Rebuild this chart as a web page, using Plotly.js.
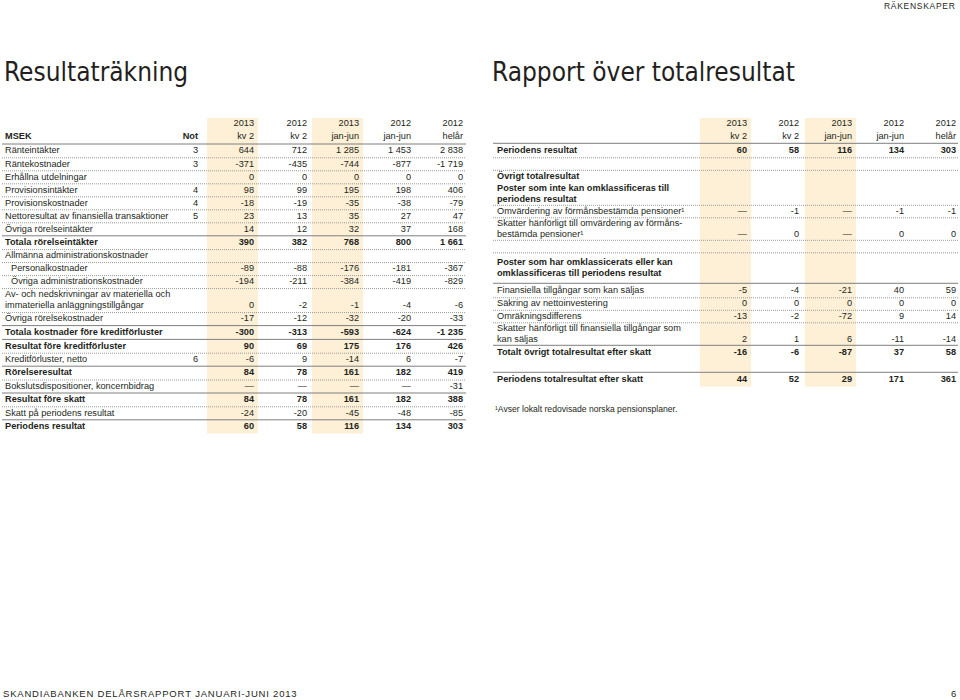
<!DOCTYPE html>
<html>
<head>
<meta charset="utf-8">
<script src="https://cdn.plot.ly/plotly-3.0.1.min.js"></script>
<style>
html,body{margin:0;padding:0;background:#ffffff;}
#chart{width:960px;height:700px;}
</style>
</head>
<body>
<div id="chart"></div>
<script>
// ================= DATA =================
// Column headers (shared by both statements)
const periodYears  = ['2013', '2012', '2013', '2012', '2012'];
const periodLabels = ['kv 2', 'kv 2', 'jan-jun', 'jan-jun', 'helår'];

// Resultaträkning (MSEK).  null = "—", '' = empty cell
const incomeLabels = [
  'Ränteintäkter',
  'Räntekostnader',
  'Erhållna utdelningar',
  'Provisionsintäkter',
  'Provisionskostnader',
  'Nettoresultat av finansiella transaktioner',
  'Övriga rörelseintäkter',
  'Totala rörelseintäkter',
  'Allmänna administrationskostnader',
  'Personalkostnader',
  'Övriga administrationskostnader',
  'Av- och nedskrivningar av materiella och\nimmateriella anläggningstillgångar',
  'Övriga rörelsekostnader',
  'Totala kostnader före kreditförluster',
  'Resultat före kreditförluster',
  'Kreditförluster, netto',
  'Rörelseresultat',
  'Bokslutsdispositioner, koncernbidrag',
  'Resultat före skatt',
  'Skatt på periodens resultat',
  'Periodens resultat'
];
const incomeNotes  = ['3', '3', '', '4', '4', '5', '', '', '', '', '', '', '', '', '', '6', '', '', '', '', ''];
const incomeQ2_2013 = [644, -371, 0, 98, -18, 23, 14, 390, '', -89, -194, 0, -17, -300, 90, -6, 84, null, 84, -24, 60];
const incomeQ2_2012 = [712, -435, 0, 99, -19, 13, 12, 382, '', -88, -211, -2, -12, -313, 69, 9, 78, null, 78, -20, 58];
const incomeH1_2013 = [1285, -744, 0, 195, -35, 35, 32, 768, '', -176, -384, -1, -32, -593, 175, -14, 161, null, 161, -45, 116];
const incomeH1_2012 = [1453, -877, 0, 198, -38, 27, 37, 800, '', -181, -419, -4, -20, -624, 176, 6, 182, null, 182, -48, 134];
const incomeFY_2012 = [2838, -1719, 0, 406, -79, 47, 168, 1661, '', -367, -829, -6, -33, -1235, 426, -7, 419, -31, 388, -85, 303];

// Rapport över totalresultat
const compLabels = [
  'Periodens resultat',
  '',
  'Övrigt totalresultat',
  'Poster som inte kan omklassificeras till\nperiodens resultat',
  'Omvärdering av förmånsbestämda pensioner¹',
  'Skatter hänförligt till omvärdering av förmåns-\nbestämda pensioner¹',
  '',
  'Poster som har omklassicerats eller kan\nomklassificeras till periodens resultat',
  'Finansiella tillgångar som kan säljas',
  'Säkring av nettoinvestering',
  'Omräkningsdifferens',
  'Skatter hänförligt till finansiella tillgångar som\nkan säljas',
  'Totalt övrigt totalresultat efter skatt',
  '',
  'Periodens totalresultat efter skatt'
];
const compQ2_2013 = [60, '', '', '', null, null, '', '', -5, 0, -13, 2, -16, '', 44];
const compQ2_2012 = [58, '', '', '', -1, 0, '', '', -4, 0, -2, 1, -6, '', 52];
const compH1_2013 = [116, '', '', '', null, null, '', '', -21, 0, -72, 6, -87, '', 29];
const compH1_2012 = [134, '', '', '', -1, 0, '', '', 40, 0, 9, -11, 37, '', 171];
const compFY_2012 = [303, '', '', '', -1, 0, '', '', 59, 0, 14, -14, 58, '', 361];

const footnote = '¹Avser lokalt redovisade norska pensionsplaner.';

// ================= STYLE / LAYOUT =================
const FONT = 'Liberation Sans, Arial, Helvetica, sans-serif';
const NARROW = 'DejaVu Sans Condensed, Liberation Sans Narrow, Arial Narrow, sans-serif';
const INK = '#231f20';
const SHADE = '#fdf0d6';
const SOLID = '#7f7f7f';
const DOT = '#9a9a9a';
const FS = 9.2;

const incomeStyle = {
  bold: [7, 13, 14, 16, 18, 20],
  indent: [9, 10],
  rules: ['solid','dotted','dotted','dotted','dotted','dotted','dotted','solid','dotted','dotted','dotted','dotted','dotted','solid','solid','dotted','solid','dotted','solid','dotted','solid'],
  pad: {},
  top: 144, S: 13.0, D: 24, solidExtra: 0.8, lineGap: 11,
  x0: 2, x1: 466, labelX: 5, indentX: 11, noteX: 198,
  colX: [254, 307, 359, 411, 463], shadeCols: [0, 2], shadeTop: 118,
  hdrY1: 124, hdrY2: 137, showHeadLabels: true
};
const compStyle = {
  bold: [0, 2, 3, 7, 12, 14],
  indent: [],
  rules: ['solid','dotted','dotted','none','dotted','dotted','dotted','dotted','solid','dotted','dotted','dotted','solid','none','solid'],
  pad: {7: 8},
  top: 143.3, S: 12.5, D: 22.5, solidExtra: 2, lineGap: 10.5,
  x0: 493, x1: 958, labelX: 497, indentX: 497, noteX: null,
  colX: [747, 799, 852, 904, 956], shadeCols: [0, 2], shadeTop: 118,
  hdrY1: 124, hdrY2: 137, showHeadLabels: false
};

function fmt(v) {
  if (v === null) return '—';
  if (v === '') return '';
  const s = Math.abs(v).toString().replace(/\B(?=(\d{3})+(?!\d))/g, ' ');
  return (v < 0 ? '-' : '') + s;
}

const traces = [];
const shapes = [];

function buildTable(labels, notes, cols, st) {
  // row geometry
  let y = st.top;
  const rows = labels.map((lab, i) => {
    const lines = lab === '' ? [] : lab.split('\n');
    let h = lines.length > 1 ? st.D : st.S;
    if (st.rules[i] === 'solid') h += st.solidExtra;
    h += (st.pad[i] || 0);
    const r = {top: y, h: h, center: y + h / 2, lines: lines, n: Math.max(lines.length, 1)};
    y += h;
    return r;
  });
  const bottom = y;

  // shading columns
  st.shadeCols.forEach(c => {
    shapes.push({type: 'rect', xref: 'x', yref: 'y', layer: 'below',
      x0: st.colX[c] - 47, x1: st.colX[c] + 4, y0: st.shadeTop, y1: bottom,
      fillcolor: SHADE, line: {width: 0}});
  });

  // rules
  rows.forEach((r, i) => {
    const t = st.rules[i];
    if (t === 'none') return;
    shapes.push({type: 'line', xref: 'x', yref: 'y', x0: st.x0, x1: st.x1, y0: r.top, y1: r.top,
      line: t === 'solid' ? {color: SOLID, width: 1} : {color: DOT, width: 1, dash: '1px,1px'}});
  });

  // labels
  const lx = [], ly = [], lt = [];
  rows.forEach((r, i) => {
    const isBold = st.bold.includes(i);
    const x = st.indent.includes(i) ? st.indentX : st.labelX;
    r.lines.forEach((line, k) => {
      lx.push(x);
      ly.push(r.center + (k - (r.lines.length - 1) / 2) * st.lineGap);
      lt.push(isBold ? '<b>' + line + '</b>' : line);
    });
  });
  traces.push({type: 'scatter', mode: 'text', x: lx, y: ly, text: lt,
    textposition: 'middle right', textfont: {family: FONT, size: FS, color: INK},
    hoverinfo: 'skip', showlegend: false, cliponaxis: false});

  // values (right aligned), placed on the last text line of each row
  const vx = [], vy = [], vt = [];
  cols.forEach((col, c) => {
    col.forEach((v, i) => {
      if (v === '') return;
      const r = rows[i];
      const s = fmt(v);
      vx.push(st.colX[c]);
      vy.push(r.center + (r.n - 1) / 2 * st.lineGap);
      vt.push(st.bold.includes(i) ? '<b>' + s + '</b>' : s);
    });
  });
  if (notes) {
    notes.forEach((nv, i) => {
      if (nv === '') return;
      const r = rows[i];
      vx.push(st.noteX);
      vy.push(r.center + (r.n - 1) / 2 * st.lineGap);
      vt.push(nv);
    });
  }
  // column headers
  periodYears.forEach((yr, c) => {
    vx.push(st.colX[c]); vy.push(st.hdrY1); vt.push(yr);
    vx.push(st.colX[c]); vy.push(st.hdrY2); vt.push(periodLabels[c]);
  });
  if (st.showHeadLabels) {
    vx.push(st.noteX); vy.push(st.hdrY2); vt.push('<b>Not</b>');
  }
  traces.push({type: 'scatter', mode: 'text', x: vx, y: vy, text: vt,
    textposition: 'middle left', textfont: {family: FONT, size: FS, color: INK},
    hoverinfo: 'skip', showlegend: false, cliponaxis: false});

  if (st.showHeadLabels) {
    traces.push({type: 'scatter', mode: 'text', x: [st.labelX], y: [st.hdrY2], text: ['<b>MSEK</b>'],
      textposition: 'middle right', textfont: {family: FONT, size: FS, color: INK},
      hoverinfo: 'skip', showlegend: false, cliponaxis: false});
  }
  return bottom;
}

buildTable(incomeLabels, incomeNotes,
  [incomeQ2_2013, incomeQ2_2012, incomeH1_2013, incomeH1_2012, incomeFY_2012], incomeStyle);
const compBottom = buildTable(compLabels, null,
  [compQ2_2013, compQ2_2012, compH1_2013, compH1_2012, compFY_2012], compStyle);

function spaced(s) { return s.split('').join('\u200A'); }

const annotations = [
  {text: 'Resultaträkning', x: 3, y: 72, xanchor: 'left', yanchor: 'middle',
   font: {family: NARROW, size: 26, color: INK}},
  {text: 'Rapport över totalresultat', x: 491, y: 72, xanchor: 'left', yanchor: 'middle',
   font: {family: NARROW, size: 26, color: INK}},
  {text: spaced('RÄKENSKAPER'), x: 956, y: 6, xanchor: 'right', yanchor: 'middle',
   font: {family: FONT, size: 8.5, color: INK}},
  {text: spaced('SKANDIABANKEN DELÅRSRAPPORT JANUARI-JUNI 2013'), x: 2, y: 693, xanchor: 'left', yanchor: 'middle',
   font: {family: FONT, size: 9.5, color: INK}},
  {text: '6', x: 957, y: 693, xanchor: 'right', yanchor: 'middle',
   font: {family: FONT, size: 9.5, color: INK}},
  {text: footnote, x: 494, y: compBottom + 22, xanchor: 'left', yanchor: 'middle',
   font: {family: FONT, size: 8.6, color: INK}}
].map(a => Object.assign({xref: 'x', yref: 'y', showarrow: false, borderpad: 0}, a));

const layout = {
  width: 960, height: 700,
  margin: {l: 0, r: 0, t: 0, b: 0, pad: 0},
  paper_bgcolor: '#ffffff', plot_bgcolor: '#ffffff',
  xaxis: {range: [0, 960], visible: false, fixedrange: true},
  yaxis: {range: [700, 0], visible: false, fixedrange: true},
  shapes: shapes,
  annotations: annotations,
  showlegend: false
};

Plotly.newPlot('chart', traces, layout, {staticPlot: true, displayModeBar: false});
</script>
</body>
</html>
